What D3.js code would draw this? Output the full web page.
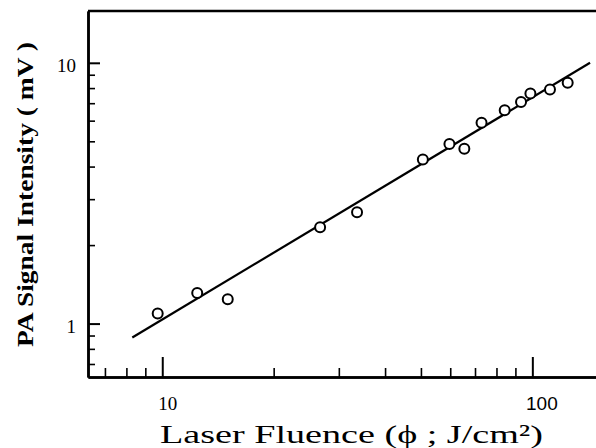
<!DOCTYPE html>
<html>
<head>
<meta charset="utf-8">
<script src="https://cdn.jsdelivr.net/npm/d3@7"></script>
<style>
  html, body { margin: 0; padding: 0; background: #fff; }
  svg { display: block; }
</style>
</head>
<body>
<script>
// ---- data ----
const fluence = [9.72, 12.43, 15.03, 26.7, 33.6, 50.6, 59.7, 65.5, 72.9, 84.2, 93.2, 98.8, 111.6, 124.6];
const signal  = [1.093, 1.31, 1.24, 2.34, 2.67, 4.26, 4.88, 4.68, 5.89, 6.58, 7.07, 7.63, 7.9, 8.38];
const fitX = [8.3, 143.2];
const fitY = [0.884, 10.0];
const xMajorTicks = [10, 100];
const xMinorTicks = [7, 8, 9, 20, 30, 40, 50, 60, 70, 80, 90];
const yMajorTicks = [1, 10];
const yMinorTicks = [0.7, 0.8, 0.9, 2, 3, 4, 5, 6, 7, 8, 9];
const xDomain = [6.3, 148.6];
const yDomain = [0.624, 15.8];
const xTitle = "Laser Fluence (\u03D5 ; J/cm\u00B2)";
const yTitle = "PA Signal Intensity ( mV )";

const W = 596, H = 448;
const L = 88, R = 596, T = 11, B = 377;

const svg = d3.select("body").append("svg").attr("width", W).attr("height", H);

const x = d3.scaleLog().domain(xDomain).range([L, R]);
const y = d3.scaleLog().domain(yDomain).range([B, T]);

// top frame line
svg.append("line").attr("x1", L).attr("x2", R).attr("y1", T).attr("y2", T)
  .attr("stroke", "#000").attr("stroke-width", 2.5);

// x axis minor ticks
const gxMinor = svg.append("g").attr("transform", `translate(0,${B})`)
  .call(d3.axisBottom(x).tickValues(xMinorTicks).tickSizeInner(-9).tickSizeOuter(0).tickFormat(""));
// x axis major ticks
const gxMajor = svg.append("g").attr("transform", `translate(0,${B})`)
  .call(d3.axisBottom(x).tickValues(xMajorTicks).tickSizeInner(-20).tickSizeOuter(0).tickPadding(20)
    .tickFormat(d3.format("d")));
// y axis minor
const gyMinor = svg.append("g").attr("transform", `translate(${L},0)`)
  .call(d3.axisLeft(y).tickValues(yMinorTicks).tickSizeInner(-7).tickSizeOuter(0).tickFormat(""));
const gyMajor = svg.append("g").attr("transform", `translate(${L},0)`)
  .call(d3.axisLeft(y).tickValues(yMajorTicks).tickSizeInner(-12).tickSizeOuter(0).tickPadding(12)
    .tickFormat(d3.format("d")));

[gxMinor, gxMajor, gyMinor, gyMajor].forEach(g => {
  g.selectAll(".domain").attr("stroke", "#000").attr("stroke-width", 2.5);
  g.selectAll(".tick line").attr("stroke", "#000").attr("stroke-width", 1.6);
});
gxMajor.selectAll(".tick line").attr("stroke-width", 2);
gyMajor.selectAll(".tick line").attr("stroke-width", 2);

gxMajor.selectAll(".tick text")
  .attr("fill", "#000")
  .style("font-family", d => d === 100 ? "'Liberation Sans', sans-serif" : "'Liberation Serif', serif")
  .style("font-size", "19px")
  .attr("dx", d => d === 100 ? 9 : 5);
gyMajor.selectAll(".tick text")
  .attr("fill", "#000")
  .style("font-family", "'Liberation Serif', serif")
  .style("font-size", "19px")
  .attr("dy", "0.45em");

// fit line
const line = d3.line().x(d => x(d[0])).y(d => y(d[1]));
svg.append("path").datum(d3.zip(fitX, fitY)).attr("d", line)
  .attr("fill", "none").attr("stroke", "#000").attr("stroke-width", 2.2);

// data points
svg.append("g").selectAll("circle").data(d3.zip(fluence, signal)).join("circle")
  .attr("cx", d => x(d[0])).attr("cy", d => y(d[1])).attr("r", 5)
  .attr("fill", "#fff").attr("stroke", "#000").attr("stroke-width", 2);

// axis titles
svg.append("text").text(xTitle)
  .attr("x", 160).attr("y", 443)
  .attr("textLength", 383).attr("lengthAdjust", "spacingAndGlyphs")
  .style("font-family", "'Liberation Serif', serif").style("font-size", "26px").attr("fill", "#000");

svg.append("text").text(yTitle)
  .attr("transform", "translate(33,347) rotate(-90)")
  .attr("textLength", 305).attr("lengthAdjust", "spacingAndGlyphs")
  .style("font-family", "'Liberation Serif', serif").style("font-weight", "bold")
  .style("font-size", "24px").attr("fill", "#000");
</script>
</body>
</html>
